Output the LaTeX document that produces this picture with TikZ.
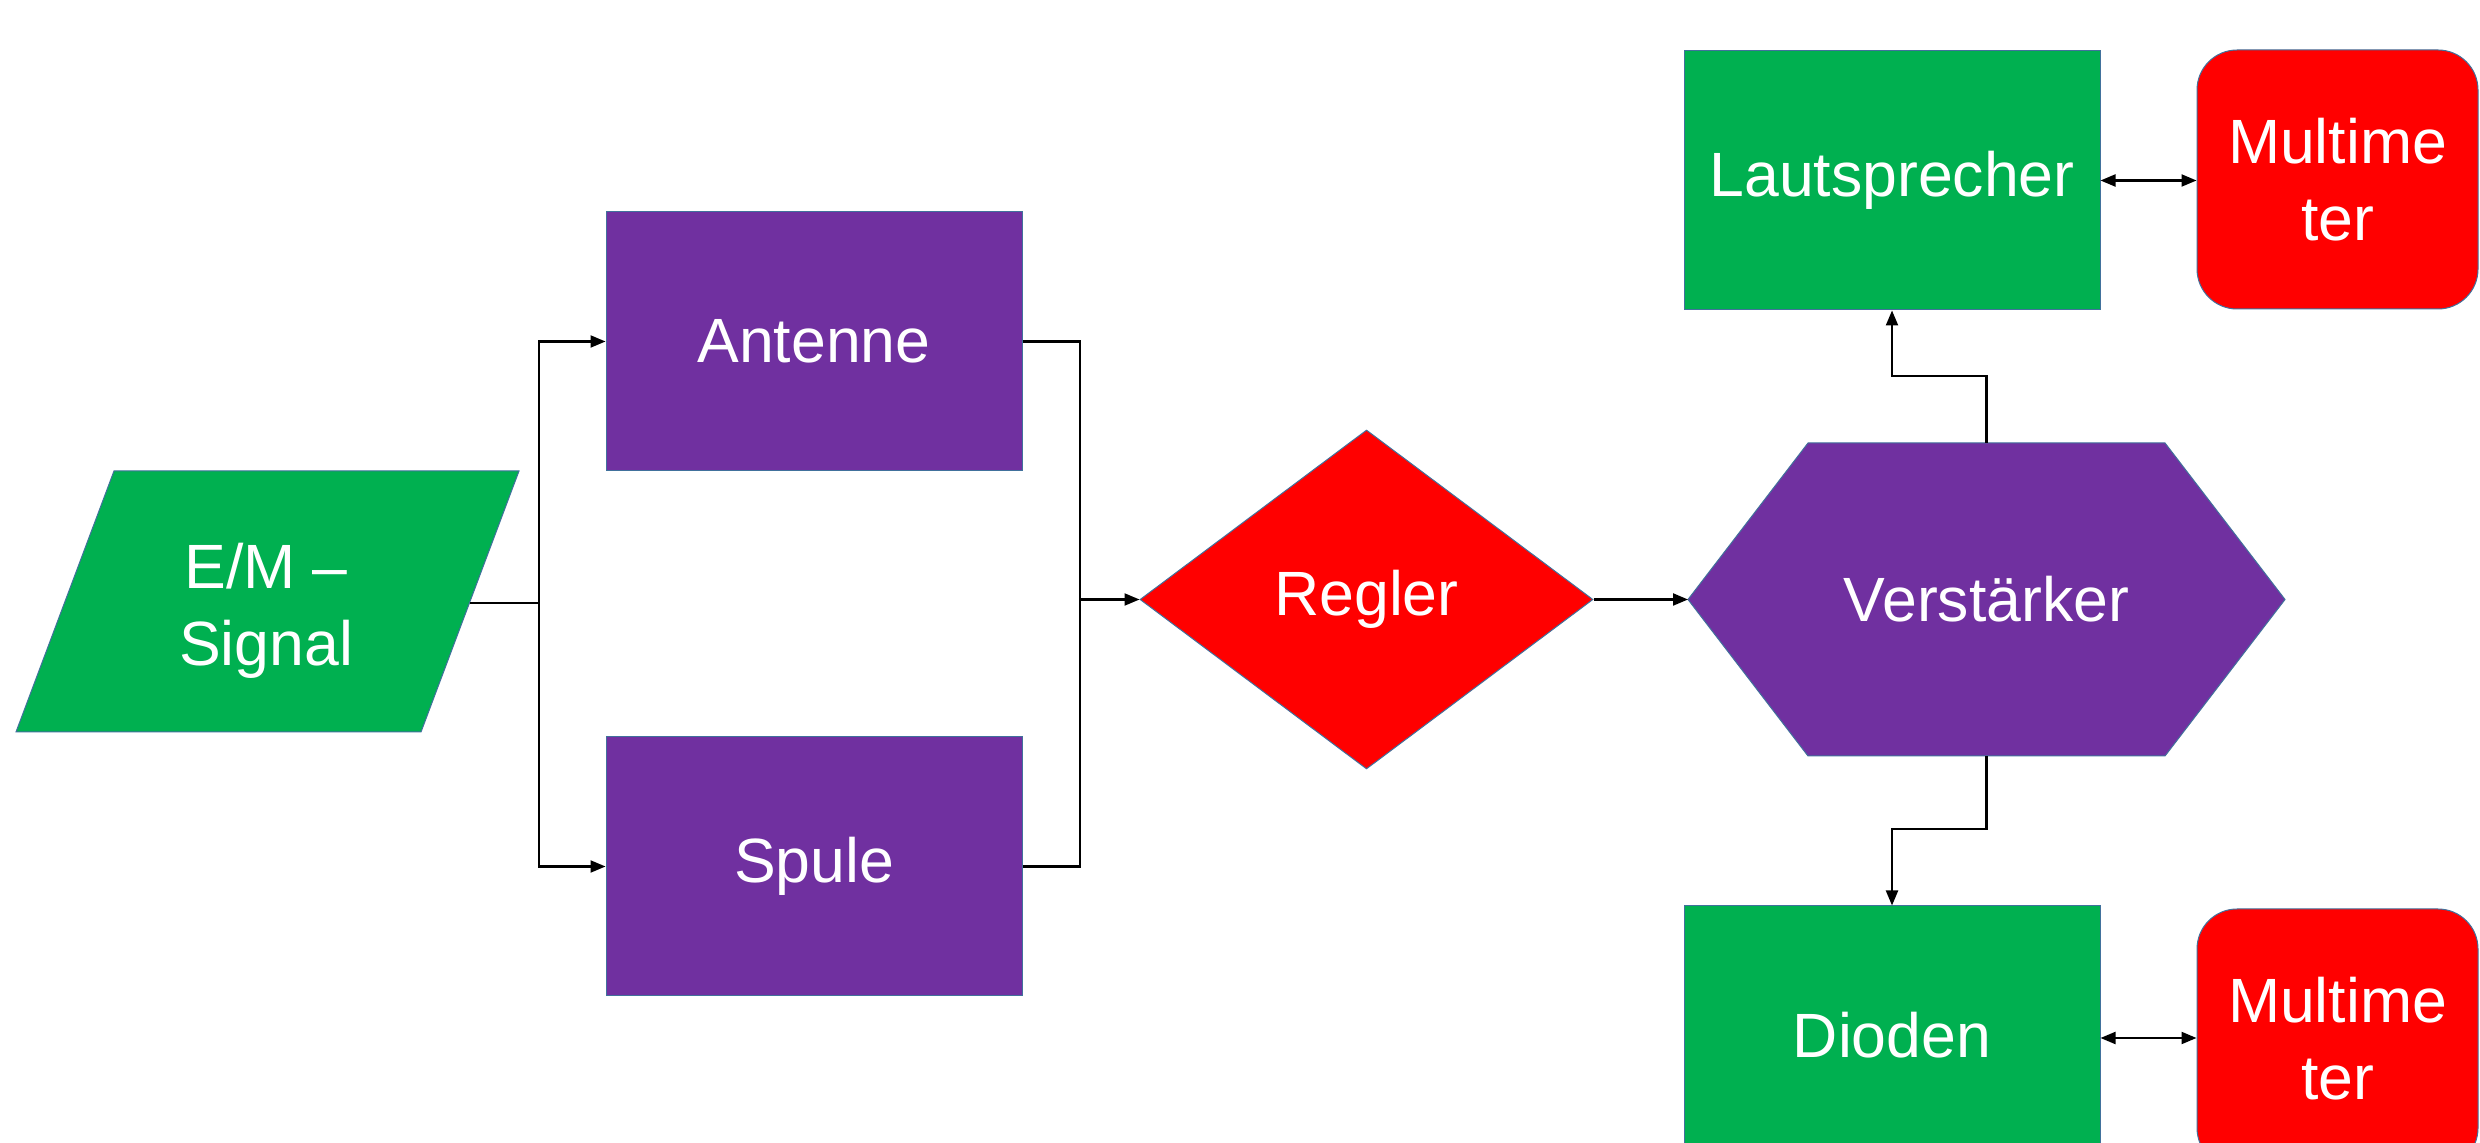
\documentclass[tikz,border=0pt]{standalone}
\usepackage{fontspec}
\setmainfont{Liberation Sans}
\usetikzlibrary{arrows.meta,shapes.geometric}
\definecolor{pgreen}{HTML}{00B050}
\definecolor{ppurple}{HTML}{7030A0}
\definecolor{pred}{HTML}{FF0000}
\definecolor{pedge}{HTML}{41719C}
\begin{document}
\begin{tikzpicture}[x=0.1mm,y=-0.1mm,
  txt/.style={text=white, font=\fontsize{17.8pt}{22pt}\selectfont, align=center, inner sep=0pt},
  outl/.style={draw=pedge, line width=0.1mm},
  box/.style={txt, outl, rectangle, minimum width=41.6mm, minimum height=25.9mm},
  mmbox/.style={txt, outl, rectangle, rounded corners=4mm, minimum width=28.1mm, minimum height=25.9mm, fill=pred},
  conn/.style={line width=0.6pt, draw=black},
  tip/.style={-{Triangle[length=1.5mm,width=1.2mm]}},
  tips/.style={{Triangle[length=1.5mm,width=1.2mm]}-{Triangle[length=1.5mm,width=1.2mm]}}
]
\clip (0,0) rectangle (2480,1143);
\fill[white] (0,0) rectangle (2480,1143);

% E/M signal parallelogram
\path[fill=pgreen, outl] (16,732) -- (421,732) -- (519,471) -- (114,471) -- cycle;
\node[txt] (sig) at (266,611) {E/M –\\Signal};
\coordinate (sigR) at (470,603);

% Antenne / Spule
\node[box, fill=ppurple] (ant) at (814,341.5) {Antenne};
\node[box, fill=ppurple] (spu) at (814,866.5) {Spule};

% Regler diamond
\node[diamond, txt, outl, fill=pred, minimum width=45.3mm, minimum height=33.9mm] (reg) at (1366.5,599.5) {Regler};

% Verstaerker hexagon
\path[fill=ppurple, outl] (1688,599.5) -- (1808,443) -- (2165,443) -- (2285,599.5) -- (2165,756) -- (1808,756) -- cycle;
\node[txt] (vs) at (1986.5,599.5) {Verstärker};
\coordinate (vsW) at (1688,599.5);
\coordinate (vsN) at (1986.5,443);
\coordinate (vsS) at (1986.5,756);

% Lautsprecher / Dioden
\node[box, fill=pgreen] (laut) at (1892,180.5) {Lautsprecher};
\node[box, fill=pgreen] (dio) at (1892,1035.5) {Dioden};

% Multimeter
\node[mmbox] (mm1) at (2337.5,179.5) {Multime\\ter};
\node[mmbox] (mm2) at (2337.5,1038.5) {Multime\\ter};

% connectors
\coordinate (j1) at (539,603);
\coordinate (j2) at (1080,599.5);
\draw[conn] (sigR) -- (j1);
\draw[conn, tip] (j1) |- (ant.west);
\draw[conn, tip] (j1) |- (spu.west);
\draw[conn] (ant.east) -| (j2);
\draw[conn] (spu.east) -| (j2);
\draw[conn, tip] (j2) -- (reg.west);
\draw[conn, tip] (reg.east) -- (vsW);
\coordinate (k1) at (1986.5,376);
\coordinate (k2) at (1986.5,829);
\draw[conn, tip] (vsN) -- (k1) -| (laut.south);
\draw[conn, tip] (vsS) -- (k2) -| (dio.north);
\draw[conn, tips] (laut.east) -- (laut.east -| mm1.west);
\draw[conn, tips] (dio.east |- 0,1038) -- (mm2.west |- 0,1038);
\end{tikzpicture}
\end{document}
